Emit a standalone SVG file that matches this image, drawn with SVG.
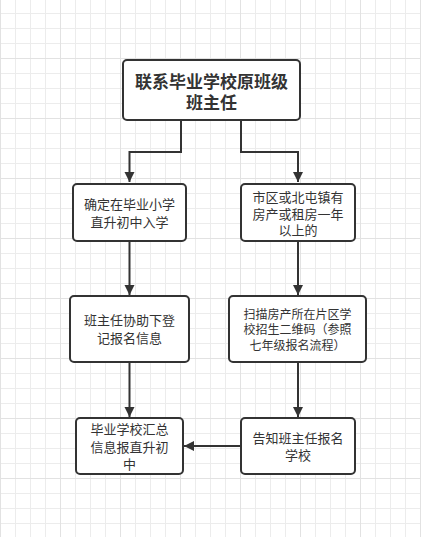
<svg xmlns="http://www.w3.org/2000/svg" width="421" height="537" viewBox="0 0 421 537">
<style>
.box{fill:#fff;stroke:#333;stroke-width:2}
.t{font-family:"Noto Sans CJK SC","Microsoft YaHei",sans-serif;font-size:13px;fill:#333;text-anchor:middle}
.t12{font-size:12px}
.tb{font-size:17px;font-weight:bold}
.c{fill:none;stroke:#333;stroke-width:2}
</style>
<defs>
<pattern id="g1" x="0" y="13" width="15" height="15" patternUnits="userSpaceOnUse">
<rect x="0" y="0" width="15" height="1" fill="#ececec"/>
<rect x="0" y="0" width="1" height="15" fill="#ececec"/>
</pattern>
<pattern id="g2" x="0" y="-2" width="60" height="60" patternUnits="userSpaceOnUse">
<rect x="0" y="0" width="60" height="1" fill="#e2e2e2"/>
<rect x="0" y="0" width="1" height="60" fill="#e2e2e2"/>
</pattern>
<marker id="ah" markerWidth="10" markerHeight="12" refX="10" refY="5" orient="auto" markerUnits="userSpaceOnUse" viewBox="0 0 10 10">
<path d="M0,0 L10,5 L0,10 Z" fill="#333"/>
</marker>
</defs>
<rect width="421" height="537" fill="#fff"/>
<rect width="421" height="537" fill="url(#g1)"/>
<rect width="421" height="537" fill="url(#g2)"/>
<g id="connectors">
<path class="c" d="M181,120 V152 H129.5 V182" marker-end="url(#ah)"/>
<path class="c" d="M241,120 V152 H298 V182" marker-end="url(#ah)"/>
<path class="c" d="M129.5,241 V295" marker-end="url(#ah)"/>
<path class="c" d="M298,241 V295" marker-end="url(#ah)"/>
<path class="c" d="M129.5,362 V417" marker-end="url(#ah)"/>
<path class="c" d="M298,362 V417" marker-end="url(#ah)"/>
<path class="c" d="M241,446 H184" marker-end="url(#ah)"/>
</g>
<g id="n0">
<rect class="box" x="123" y="60" width="177" height="60" rx="4"/>
<text class="t tb" x="211.5" y="87.5">联系毕业学校原班级</text>
<text class="t tb" x="211.5" y="108.5">班主任</text>
</g>
<g id="n1">
<rect class="box" x="73" y="184" width="113" height="57" rx="4"/>
<text class="t" x="129.5" y="209">确定在毕业小学</text>
<text class="t" x="129.5" y="227">直升初中入学</text>
</g>
<g id="n2">
<rect class="box" x="241" y="184" width="114" height="57" rx="4"/>
<text class="t" x="298" y="202">市区或北屯镇有</text>
<text class="t" x="298" y="218.5">房产或租房一年</text>
<text class="t" x="298" y="235">以上的</text>
</g>
<g id="n3">
<rect class="box" x="70" y="296" width="119" height="66" rx="4"/>
<text class="t" x="129.5" y="325">班主任协助下登</text>
<text class="t" x="129.5" y="343">记报名信息</text>
</g>
<g id="n4">
<rect class="box" x="229" y="296" width="137" height="66" rx="4"/>
<text class="t t12" x="297.5" y="318.5">扫描房产所在片区学</text>
<text class="t t12" x="297.5" y="334">校招生二维码（参照</text>
<text class="t t12" x="297.5" y="350">七年级报名流程）</text>
</g>
<g id="n5">
<rect class="box" x="76" y="418" width="107" height="56" rx="4"/>
<text class="t" x="129.5" y="434">毕业学校汇总</text>
<text class="t" x="129.5" y="452">信息报直升初</text>
<text class="t" x="129.5" y="468.5">中</text>
</g>
<g id="n6">
<rect class="box" x="241" y="418" width="114" height="56" rx="4"/>
<text class="t" x="298" y="443">告知班主任报名</text>
<text class="t" x="298" y="460">学校</text>
</g>
</svg>
